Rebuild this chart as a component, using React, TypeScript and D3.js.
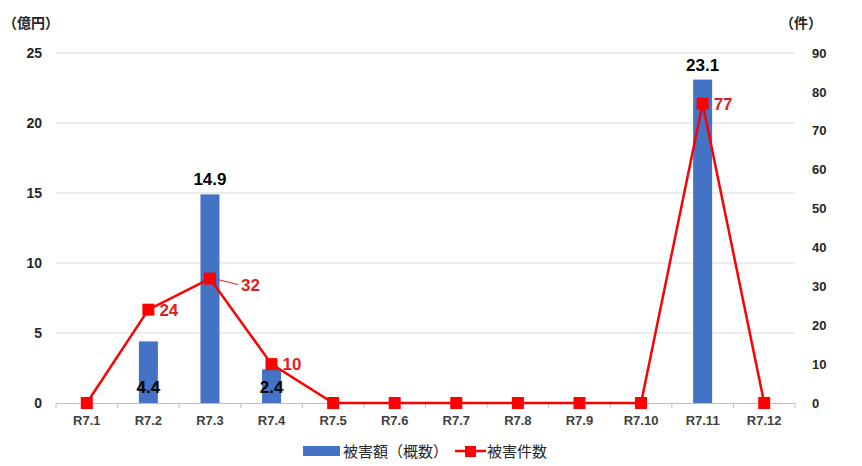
import { useRef, useEffect } from 'react';
import * as d3 from 'd3';

const months = ['R7.1', 'R7.2', 'R7.3', 'R7.4', 'R7.5', 'R7.6', 'R7.7', 'R7.8', 'R7.9', 'R7.10', 'R7.11', 'R7.12'];
const amounts = [0, 4.4, 14.9, 2.4, 0, 0, 0, 0, 0, 0, 23.1, 0];
const counts = [0, 24, 32, 10, 0, 0, 0, 0, 0, 0, 77, 0];
const leftTicks = [0, 5, 10, 15, 20, 25];
const rightTicks = [0, 10, 20, 30, 40, 50, 60, 70, 80, 90];

const W = 862;
const H = 466;
const FONT = "'Liberation Sans', 'Noto Sans CJK JP', sans-serif";
const JP = "'Noto Sans CJK JP', sans-serif";

const App = () => {
  const svgRef = useRef<SVGSVGElement>(null);

  useEffect(() => {
    const svg = d3.select(svgRef.current);
    svg.selectAll('*').remove();

    const x = d3.scaleBand().domain(months).range([56, 795]);
    const yL = d3.scaleLinear().domain([0, 25]).range([403, 53]);
    const yR = d3.scaleLinear().domain([0, 90]).range([403, 53]);
    const cx = (m: string) => (x(m) as number) + x.bandwidth() / 2;

    // grid
    svg.append('g')
      .selectAll('line')
      .data(leftTicks.slice(1))
      .join('line')
      .attr('x1', 56).attr('x2', 795)
      .attr('y1', d => yL(d)).attr('y2', d => yL(d))
      .attr('stroke', '#d9d9d9').attr('stroke-width', 1);

    // x axis
    const xa = svg.append('g')
      .attr('transform', 'translate(0,403)')
      .call(d3.axisBottom(x).tickSize(0).tickPadding(13));
    xa.select('.domain').attr('stroke', '#bfbfbf');
    xa.selectAll('text')
      .attr('font-family', FONT).attr('font-size', 13).attr('font-weight', 'bold').attr('fill', '#404040');
    xa.append('g')
      .selectAll('line')
      .data(d3.range(months.length + 1))
      .join('line')
      .attr('x1', i => 56 + i * x.step()).attr('x2', i => 56 + i * x.step())
      .attr('y1', 0).attr('y2', 5)
      .attr('stroke', '#bfbfbf');

    // left axis
    const la = svg.append('g')
      .attr('transform', 'translate(42,0)')
      .call(d3.axisLeft(yL).tickValues(leftTicks).tickSize(0).tickPadding(0));
    la.select('.domain').remove();
    la.selectAll('text')
      .attr('font-family', FONT).attr('font-size', 14).attr('font-weight', 'bold').attr('fill', '#262626');

    // right axis
    const ra = svg.append('g')
      .attr('transform', 'translate(812,0)')
      .call(d3.axisRight(yR).tickValues(rightTicks).tickSize(0).tickPadding(0));
    ra.select('.domain').remove();
    ra.selectAll('text')
      .attr('font-family', FONT).attr('font-size', 13).attr('font-weight', 'bold').attr('fill', '#262626');

    // units
    svg.append('text').attr('x', 3).attr('y', 28).text('（億円）')
      .attr('font-family', JP).attr('font-size', 14).attr('font-weight', 'bold').attr('fill', '#262626');
    svg.append('text').attr('x', 780).attr('y', 28).text('（件）')
      .attr('font-family', JP).attr('font-size', 14).attr('font-weight', 'bold').attr('fill', '#262626');

    // bars
    const bw = 19;
    svg.append('g')
      .selectAll('rect')
      .data(months.map((m, i) => ({ m, v: amounts[i] })).filter(d => d.v > 0))
      .join('rect')
      .attr('x', d => cx(d.m) - bw / 2)
      .attr('width', bw)
      .attr('y', d => yL(d.v))
      .attr('height', d => yL(0) - yL(d.v))
      .attr('fill', '#4472C4');

    // bar labels
    svg.append('g')
      .selectAll('text')
      .data(months.map((m, i) => ({ m, v: amounts[i] })).filter(d => d.v > 0))
      .join('text')
      .attr('x', d => cx(d.m))
      .attr('y', d => (d.v > 10 ? yL(d.v) - 9 : yL(0) - 10))
      .attr('text-anchor', 'middle')
      .attr('font-family', FONT).attr('font-size', 17).attr('font-weight', 'bold').attr('fill', '#000')
      .text(d => d.v.toFixed(1));

    // line
    const pts = months.map((m, i) => ({ m, v: counts[i] }));
    const line = d3.line<{ m: string; v: number }>()
      .x(d => cx(d.m))
      .y(d => yR(d.v));
    svg.append('path')
      .datum(pts)
      .attr('d', line)
      .attr('fill', 'none')
      .attr('stroke', '#FF0000')
      .attr('stroke-width', 2.5);

    const ms = 12;
    svg.append('g')
      .selectAll('rect')
      .data(pts)
      .join('rect')
      .attr('x', d => cx(d.m) - ms / 2)
      .attr('y', d => yR(d.v) - ms / 2)
      .attr('width', ms).attr('height', ms)
      .attr('fill', '#FF0000');

    // line labels
    const labelled = pts.filter(d => d.v > 0);
    svg.append('g')
      .selectAll('text')
      .data(labelled)
      .join('text')
      .attr('x', d => cx(d.m) + (d.v === 32 ? 31 : 11))
      .attr('y', d => yR(d.v) + (d.v === 32 ? 12 : 6))
      .attr('font-family', FONT).attr('font-size', 17).attr('font-weight', 'bold').attr('fill', '#E0201B')
      .text(d => d.v);
    // leader line for 32
    const p32 = pts[2];
    svg.append('line')
      .attr('x1', cx(p32.m) + 8).attr('y1', yR(p32.v) + 1)
      .attr('x2', cx(p32.m) + 28).attr('y2', yR(p32.v) + 6)
      .attr('stroke', '#E0201B').attr('stroke-width', 1);

    // legend
    const lg = svg.append('g').attr('transform', 'translate(0,451)');
    lg.append('rect').attr('x', 303).attr('y', -5).attr('width', 37).attr('height', 10).attr('fill', '#4472C4');
    lg.append('text').attr('x', 343).attr('y', 6).text('被害額（概数）')
      .attr('font-family', JP).attr('font-size', 15).attr('fill', '#262626');
    lg.append('line').attr('x1', 455).attr('x2', 486).attr('y1', 0).attr('y2', 0)
      .attr('stroke', '#FF0000').attr('stroke-width', 2.5);
    lg.append('rect').attr('x', 465).attr('y', -5).attr('width', 11).attr('height', 11).attr('fill', '#FF0000');
    lg.append('text').attr('x', 487).attr('y', 6).text('被害件数')
      .attr('font-family', JP).attr('font-size', 15).attr('fill', '#262626');
  }, []);

  return (
    <svg
      ref={svgRef}
      width={W}
      height={H}
      style={{ position: 'absolute', left: 0, top: 0, background: '#fff' }}
    ></svg>
  );
};

export default App;
